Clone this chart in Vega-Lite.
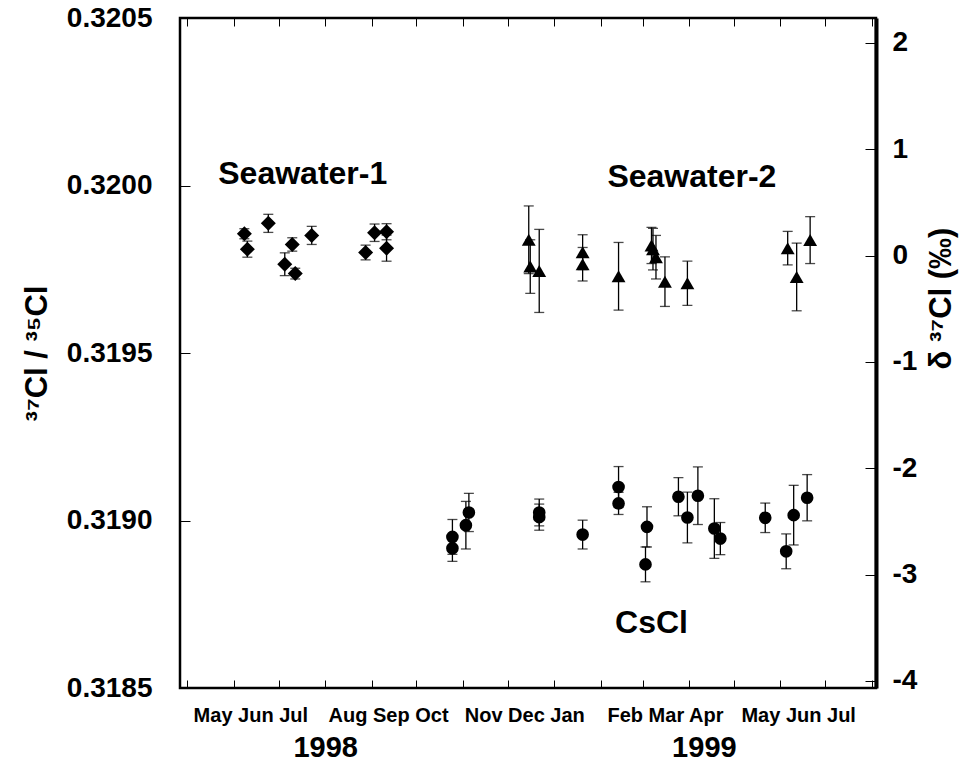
{
  "$schema": "https://vega.github.io/schema/vega-lite/v6.json",
  "width": 696,
  "height": 670,
  "autosize": "none",
  "padding": {"left": 180, "top": 18, "right": 88, "bottom": 77},
  "background": "white",
  "config": {
    "font": "Liberation Sans",
    "view": {"stroke": "black", "strokeWidth": 2.5},
    "axis": {
      "grid": false,
      "labelFont": "Liberation Sans",
      "labelFontWeight": "bold",
      "labelColor": "black",
      "titleFont": "Liberation Sans",
      "titleFontWeight": "bold",
      "titleColor": "black",
      "tickColor": "black",
      "domainColor": "black"
    },
    "text": {"font": "Liberation Sans", "fontWeight": "bold", "color": "black"}
  },
  "datasets": {
    "pts": [
      {"series": "Seawater-1", "date": "1998-06-08", "ratio": 0.319856, "err": 0.000015},
      {"series": "Seawater-1", "date": "1998-06-10", "ratio": 0.319810, "err": 0.000024},
      {"series": "Seawater-1", "date": "1998-06-24", "ratio": 0.319887, "err": 0.000027},
      {"series": "Seawater-1", "date": "1998-07-05", "ratio": 0.319765, "err": 0.000034},
      {"series": "Seawater-1", "date": "1998-07-10", "ratio": 0.319824, "err": 0.000020},
      {"series": "Seawater-1", "date": "1998-07-12", "ratio": 0.319737, "err": 0.000016},
      {"series": "Seawater-1", "date": "1998-07-23", "ratio": 0.319851, "err": 0.000027},
      {"series": "Seawater-1", "date": "1998-08-28", "ratio": 0.319800, "err": 0.000022},
      {"series": "Seawater-1", "date": "1998-09-03", "ratio": 0.319859, "err": 0.000026},
      {"series": "Seawater-1", "date": "1998-09-11", "ratio": 0.319862, "err": 0.000024},
      {"series": "Seawater-1", "date": "1998-09-11", "ratio": 0.319813, "err": 0.000039},
      {"series": "Seawater-2", "date": "1998-12-15", "ratio": 0.319838, "err": 0.000101},
      {"series": "Seawater-2", "date": "1998-12-16", "ratio": 0.319758, "err": 0.000080},
      {"series": "Seawater-2", "date": "1998-12-22", "ratio": 0.319745, "err": 0.000124},
      {"series": "Seawater-2", "date": "1999-01-20", "ratio": 0.319801, "err": 0.000052},
      {"series": "Seawater-2", "date": "1999-01-20", "ratio": 0.319765, "err": 0.000050},
      {"series": "Seawater-2", "date": "1999-02-13", "ratio": 0.319729, "err": 0.000101},
      {"series": "Seawater-2", "date": "1999-03-07", "ratio": 0.319821, "err": 0.000054},
      {"series": "Seawater-2", "date": "1999-03-08", "ratio": 0.319810, "err": 0.000062},
      {"series": "Seawater-2", "date": "1999-03-10", "ratio": 0.319786, "err": 0.000065},
      {"series": "Seawater-2", "date": "1999-03-16", "ratio": 0.319713, "err": 0.000074},
      {"series": "Seawater-2", "date": "1999-03-31", "ratio": 0.319708, "err": 0.000066},
      {"series": "Seawater-2", "date": "1999-06-06", "ratio": 0.319813, "err": 0.000050},
      {"series": "Seawater-2", "date": "1999-06-12", "ratio": 0.319727, "err": 0.000101},
      {"series": "Seawater-2", "date": "1999-06-21", "ratio": 0.319837, "err": 0.000070},
      {"series": "CsCl", "date": "1998-10-25", "ratio": 0.318951, "err": 0.000052},
      {"series": "CsCl", "date": "1998-10-25", "ratio": 0.318917, "err": 0.000039},
      {"series": "CsCl", "date": "1998-11-03", "ratio": 0.318986, "err": 0.000071},
      {"series": "CsCl", "date": "1998-11-05", "ratio": 0.319024, "err": 0.000057},
      {"series": "CsCl", "date": "1998-12-22", "ratio": 0.319024, "err": 0.000040},
      {"series": "CsCl", "date": "1998-12-22", "ratio": 0.319010, "err": 0.000039},
      {"series": "CsCl", "date": "1999-01-20", "ratio": 0.318958, "err": 0.000043},
      {"series": "CsCl", "date": "1999-02-13", "ratio": 0.319100, "err": 0.000061},
      {"series": "CsCl", "date": "1999-02-13", "ratio": 0.319051, "err": 0.000033},
      {"series": "CsCl", "date": "1999-03-03", "ratio": 0.318869, "err": 0.000052},
      {"series": "CsCl", "date": "1999-03-04", "ratio": 0.318981, "err": 0.000060},
      {"series": "CsCl", "date": "1999-03-25", "ratio": 0.319071, "err": 0.000057},
      {"series": "CsCl", "date": "1999-03-31", "ratio": 0.319009, "err": 0.000076},
      {"series": "CsCl", "date": "1999-04-07", "ratio": 0.319074, "err": 0.000086},
      {"series": "CsCl", "date": "1999-04-18", "ratio": 0.318976, "err": 0.000089},
      {"series": "CsCl", "date": "1999-04-22", "ratio": 0.318946, "err": 0.000048},
      {"series": "CsCl", "date": "1999-05-22", "ratio": 0.319008, "err": 0.000044},
      {"series": "CsCl", "date": "1999-06-05", "ratio": 0.318908, "err": 0.000052},
      {"series": "CsCl", "date": "1999-06-10", "ratio": 0.319016, "err": 0.000089},
      {"series": "CsCl", "date": "1999-06-19", "ratio": 0.319068, "err": 0.000069}
    ],
    "labels": [
      {"label": "Seawater-1", "date": "1998-07-17", "ratio": 0.320033},
      {"label": "Seawater-2", "date": "1999-04-03", "ratio": 0.320024},
      {"label": "CsCl", "date": "1999-03-07", "ratio": 0.318694}
    ],
    "deltaRange": [{"delta": -4}, {"delta": 2}]
  },
  "layer": [
    {
      "layer": [
        {
          "data": {"name": "pts"},
          "mark": {"type": "errorbar", "ticks": true, "size": 10, "thickness": 1.3, "color": "black"},
          "encoding": {
            "x": {
              "field": "date", "type": "temporal",
              "scale": {"type": "utc", "domain": [{"year": 1998, "month": 4, "date": 26, "utc": true}, {"year": 1999, "month": 8, "date": 4, "utc": true}]},
              "axis": {
                "orient": "bottom", "title": null, "labels": false, "domain": false, "grid": false,
                "tickSize": -8, "tickWidth": 1,
                "values": [
                  {"year": 1998, "month": 5, "date": 1, "utc": true}, {"year": 1998, "month": 6, "date": 1, "utc": true},
                  {"year": 1998, "month": 7, "date": 1, "utc": true}, {"year": 1998, "month": 8, "date": 1, "utc": true},
                  {"year": 1998, "month": 9, "date": 1, "utc": true}, {"year": 1998, "month": 10, "date": 1, "utc": true},
                  {"year": 1998, "month": 11, "date": 1, "utc": true}, {"year": 1998, "month": 12, "date": 1, "utc": true},
                  {"year": 1999, "month": 1, "date": 1, "utc": true}, {"year": 1999, "month": 2, "date": 1, "utc": true},
                  {"year": 1999, "month": 3, "date": 1, "utc": true}, {"year": 1999, "month": 4, "date": 1, "utc": true},
                  {"year": 1999, "month": 5, "date": 1, "utc": true}, {"year": 1999, "month": 6, "date": 1, "utc": true},
                  {"year": 1999, "month": 7, "date": 1, "utc": true}, {"year": 1999, "month": 8, "date": 1, "utc": true}
                ]
              }
            },
            "y": {
              "field": "ratio", "type": "quantitative",
              "scale": {"domain": [0.3185, 0.3205], "nice": false, "zero": false},
              "axis": {
                "orient": "left", "title": "³⁷Cl / ³⁵Cl", "titleFontSize": 31, "titlePadding": 13,
                "values": [0.3185, 0.319, 0.3195, 0.32, 0.3205], "format": ".4f",
                "labelFontSize": 28, "labelPadding": 38, "tickSize": -10, "tickWidth": 1,
                "domain": false, "grid": false
              }
            },
            "yError": {"field": "err"}
          }
        },
        {
          "data": {"name": "pts"},
          "mark": {"type": "point", "filled": true, "opacity": 1, "color": "black"},
          "encoding": {
            "x": {
              "field": "date", "type": "temporal",
              "axis": {
                "orient": "bottom", "title": null, "ticks": false, "domain": false, "grid": false,
                "labelFontSize": 20, "labelPadding": 17, "labelOverlap": false,
                "labelExpr": "utcFormat(datum.value - 2592000000, '%b') + ' ' + utcFormat(datum.value, '%b') + ' ' + utcFormat(datum.value + 2678400000, '%b')",
                "values": [
                  {"year": 1998, "month": 6, "date": 12, "utc": true}, {"year": 1998, "month": 9, "date": 12, "utc": true},
                  {"year": 1998, "month": 12, "date": 12, "utc": true}, {"year": 1999, "month": 3, "date": 16, "utc": true},
                  {"year": 1999, "month": 6, "date": 13, "utc": true}
                ]
              }
            },
            "y": {"field": "ratio", "type": "quantitative"},
            "shape": {
              "field": "series", "type": "nominal", "legend": null,
              "scale": {"domain": ["Seawater-1", "Seawater-2", "CsCl"], "range": ["diamond", "triangle-up", "circle"]}
            },
            "size": {
              "field": "series", "type": "nominal", "legend": null,
              "scale": {"domain": ["Seawater-1", "Seawater-2", "CsCl"], "range": [225, 160, 125]}
            }
          }
        },
        {
          "data": {"name": "labels"},
          "mark": {"type": "text", "fontSize": 32, "fontWeight": "bold", "align": "center", "baseline": "middle"},
          "encoding": {
            "x": {
              "field": "date", "type": "temporal",
              "axis": {
                "orient": "bottom", "title": null, "ticks": false, "domain": false, "grid": false,
                "labelFontSize": 29, "labelPadding": 45, "labelOverlap": false,
                "labelExpr": "utcFormat(datum.value, '%Y')",
                "values": [{"year": 1998, "month": 8, "date": 1, "utc": true}, {"year": 1999, "month": 4, "date": 11, "utc": true}]
              }
            },
            "y": {"field": "ratio", "type": "quantitative"},
            "text": {"field": "label"}
          }
        },
        {
          "data": {"name": "pts"},
          "mark": {"type": "point", "opacity": 0},
          "encoding": {
            "x": {
              "field": "date", "type": "temporal",
              "axis": {
                "orient": "top", "title": null, "labels": false, "domain": false, "grid": false,
                "tickSize": -8, "tickWidth": 1,
                "values": [
                  {"year": 1998, "month": 5, "date": 1, "utc": true}, {"year": 1998, "month": 6, "date": 1, "utc": true},
                  {"year": 1998, "month": 7, "date": 1, "utc": true}, {"year": 1998, "month": 8, "date": 1, "utc": true},
                  {"year": 1998, "month": 9, "date": 1, "utc": true}, {"year": 1998, "month": 10, "date": 1, "utc": true},
                  {"year": 1998, "month": 11, "date": 1, "utc": true}, {"year": 1998, "month": 12, "date": 1, "utc": true},
                  {"year": 1999, "month": 1, "date": 1, "utc": true}, {"year": 1999, "month": 2, "date": 1, "utc": true},
                  {"year": 1999, "month": 3, "date": 1, "utc": true}, {"year": 1999, "month": 4, "date": 1, "utc": true},
                  {"year": 1999, "month": 5, "date": 1, "utc": true}, {"year": 1999, "month": 6, "date": 1, "utc": true},
                  {"year": 1999, "month": 7, "date": 1, "utc": true}, {"year": 1999, "month": 8, "date": 1, "utc": true}
                ]
              }
            },
            "y": {"field": "ratio", "type": "quantitative"}
          }
        }
      ],
      "resolve": {"axis": {"x": "independent"}}
    },
    {
      "data": {"name": "deltaRange"},
      "mark": {"type": "rule", "opacity": 0},
      "encoding": {
        "y": {
          "field": "delta", "type": "quantitative",
          "scale": {"domain": [-4.066, 2.234], "nice": false, "zero": false},
          "axis": {
            "orient": "right", "title": "δ ³⁷Cl   (‰)", "titleFontSize": 31, "titleAngle": 270,
            "titleBaseline": "middle", "titleAlign": "center", "titleX": 65, "titleY": 280,
            "values": [-4, -3, -2, -1, 0, 1, 2], "labelExpr": "toString(datum.value)",
            "labelFontSize": 28, "labelPadding": 27, "tickSize": -11, "tickWidth": 1,
            "domain": true, "domainWidth": 4, "grid": false
          }
        }
      }
    }
  ],
  "resolve": {"scale": {"y": "independent"}, "axis": {"y": "independent", "x": "independent"}}
}
